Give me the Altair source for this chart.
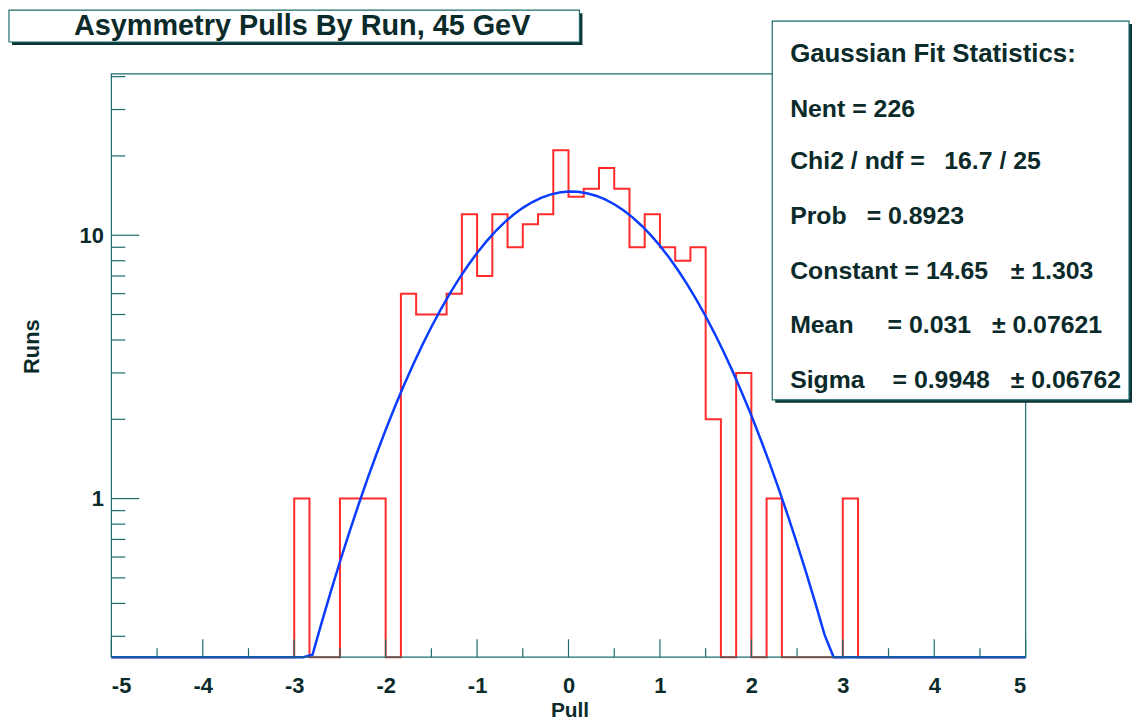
import altair as alt
import pandas as pd

# ---------------- data ----------------
title_text = "Asymmetry Pulls By Run, 45 GeV"
x_title = "Pull"
y_title = "Runs"

# histogram: 60 bins of width 1/6 on [-5, 5]; non-empty region starts at -3.0
first_bin = -3.0
bin_width = 1.0 / 6.0
counts = [1, 0, 0, 1, 1, 1, 0,
          6, 5, 5, 6,
          12, 7, 12, 9, 11, 12, 21,
          14, 15, 18, 15, 9, 12, 9, 8, 9,
          2, 0, 3, 0, 1,
          0, 0, 0, 0, 1]

# Gaussian fit parameters (from the stats box)
fit_constant = 14.65
fit_mean = 0.031
fit_sigma = 0.9948

x_range = [-5, 5]
y_range = [0.25, 41]

x_major = [-5, -4, -3, -2, -1, 0, 1, 2, 3, 4, 5]
x_minor = [-4.5, -3.5, -2.5, -1.5, -0.5, 0.5, 1.5, 2.5, 3.5, 4.5]
y_major = [1, 10]
y_minor = [0.3, 0.4, 0.5, 0.6, 0.7, 0.8, 0.9, 2, 3, 4, 5, 6, 7, 8, 9, 20, 30, 40]

stats_title = "Gaussian Fit Statistics:"
stats_lines = [
    ["Nent = 226"],
    ["Chi2 / ndf =", "16.7 / 25"],
    ["Prob", "= 0.8923"],
    ["Constant = 14.65", "\u00b1 1.303"],
    ["Mean", "= 0.031", "\u00b1 0.07621"],
    ["Sigma", "= 0.9948", "\u00b1 0.06762"],
]

# ---------------- styling ----------------
W, H = 920, 587
FONT = "Liberation Sans"
TEXT = "#0b2a2a"
LINE = "#1d6b6b"
RED = "#ff2b2b"
BLUE = "#0a3cff"

# histogram outline points (step-after)
xs = [x_range[0]]
ys = [0]
for i, c in enumerate(counts):
    xs.append(first_bin + i * bin_width)
    ys.append(c)
xs.append(first_bin + len(counts) * bin_width)
ys.append(0)
xs.append(x_range[1])
ys.append(0)
hist_df = pd.DataFrame({"x": xs, "count": ys})

xscale = alt.Scale(domain=x_range, nice=False, zero=False)
yscale = alt.Scale(type="log", domain=y_range, nice=False, clamp=True)

hist = alt.Chart(hist_df).transform_calculate(
    y=f"max(datum.count, {y_range[0]})"
).mark_line(interpolate="step-after", color=RED, strokeWidth=2).encode(
    x=alt.X("x:Q", scale=xscale, axis=alt.Axis(
        values=x_major, labelExpr="'' + datum.value", ticks=False, domain=False, grid=False,
        labelFont=FONT, labelFontWeight="bold", labelFontSize=22, labelColor=TEXT,
        labelPadding=19, labelOverlap=False, title=x_title, titleFont=FONT, titleFontWeight="bold",
        titleFontSize=21, titleColor=TEXT, titleX=461, titleY=54, titleBaseline="middle",
        titleAlign="center")),
    y=alt.Y("y:Q", scale=yscale, axis=alt.Axis(
        values=y_major, labelExpr="'' + datum.value", ticks=False, domain=False, grid=False,
        labelFont=FONT, labelFontWeight="bold", labelFontSize=22, labelColor=TEXT,
        labelPadding=8, labelOverlap=False, title=y_title, titleFont=FONT, titleFontWeight="bold",
        titleFontSize=22, titleColor=TEXT, titleX=-80, titleY=274, titleAngle=270,
        titleBaseline="middle", titleAlign="center")),
)

fit = alt.Chart(alt.sequence(-5, 5.05, 0.1, as_="x")).transform_calculate(
    g=f"max({fit_constant} * exp(-0.5 * pow((datum.x - {fit_mean}) / {fit_sigma}, 2)), {y_range[0]})"
).mark_line(color=BLUE, strokeWidth=2.5).encode(
    x=alt.X("x:Q", scale=xscale, axis=None),
    y=alt.Y("g:Q", scale=yscale, axis=None),
)

frame = alt.Chart(pd.DataFrame({"a": [0]})).mark_rect(
    fill="transparent", stroke=LINE, strokeWidth=1.2
).encode(x=alt.value(0), x2=alt.value(W), y=alt.value(0), y2=alt.value(H))

def vticks(vals, length):
    return alt.Chart(pd.DataFrame({"v": vals})).mark_rule(color=LINE, strokeWidth=1.2).encode(
        x=alt.X("v:Q", scale=xscale, axis=None), y=alt.value(H), y2=alt.value(H - length))

def hticks(vals, length):
    return alt.Chart(pd.DataFrame({"v": vals})).mark_rule(color=LINE, strokeWidth=1.2).encode(
        y=alt.Y("v:Q", scale=yscale, axis=None), x=alt.value(0), x2=alt.value(length))

def box(x0, y0, x1, y1, shadow=3):
    d = pd.DataFrame({"a": [0]})
    sh = alt.Chart(d).mark_rect(fill="#0d3535").encode(
        x=alt.value(x0 + shadow), x2=alt.value(x1 + shadow),
        y=alt.value(y0 + shadow), y2=alt.value(y1 + shadow))
    bx = alt.Chart(d).mark_rect(fill="white", stroke=LINE, strokeWidth=1.2).encode(
        x=alt.value(x0), x2=alt.value(x1), y=alt.value(y0), y2=alt.value(y1))
    return [sh, bx]

def text(s, x, y, size, align="left", weight="bold"):
    return alt.Chart(pd.DataFrame({"t": [s]})).mark_text(
        font=FONT, fontSize=size, fontWeight=weight, color=TEXT, align=align, baseline="alphabetic"
    ).encode(text="t:N", x=alt.value(x), y=alt.value(y))

layers = [hist, fit, frame,
          vticks(x_major, 18), vticks(x_minor, 9),
          hticks(y_major, 28), hticks(y_minor, 14)]

# title box
layers += box(-103, -64, 471, -32)
layers.append(text(title_text, 192, -39, 29, align="center"))

# stats box
layers += box(665, -53, 1024, 328)
sx = 683
base = [-12, 43, 96, 151, 206, 261, 316]
col2 = {2: [838], 3: [760], 4: [905], 5: [781, 886], 6: [786, 905]}
layers.append(text(stats_title, sx, base[0], 26))
for i, parts in enumerate(stats_lines, start=1):
    layers.append(text(parts[0], sx, base[i], 25))
    for p, px in zip(parts[1:], col2.get(i, [])):
        layers.append(text(p, px, base[i], 25))

chart = alt.layer(*layers).resolve_axis(x="independent", y="independent").properties(
    width=W, height=H,
    autosize=alt.AutoSizeParams(type="none"),
    padding={"left": 104, "top": 64, "right": 108, "bottom": 62},
    background="white",
).configure_view(stroke=None)

chart.save("out.html", embed_options={"renderer": "svg", "actions": False})
